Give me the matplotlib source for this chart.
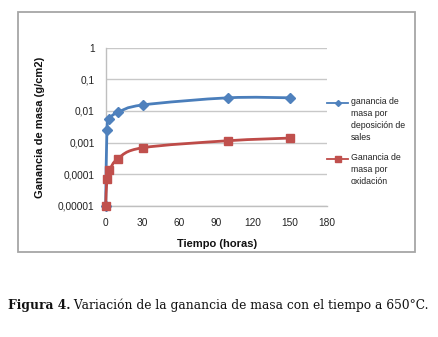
import numpy as np
import matplotlib
matplotlib.use("Agg")
import matplotlib.pyplot as plt
from matplotlib.path import Path
from matplotlib.patches import PathPatch, Rectangle
from matplotlib.lines import Line2D

# ---- data ----
t_sales = [0, 1, 3, 10, 30, 100, 150]
g_sales = [0.00001, 0.0025, 0.0056, 0.009, 0.0154, 0.026, 0.026]
t_ox = [0, 1, 3, 10, 30, 100, 150]
g_ox = [0.00001, 0.000068, 0.00013, 0.00031, 0.00068, 0.00114, 0.00138]
label_sales = "ganancia de\nmasa por\ndeposición de\nsales"
label_ox = "Ganancia de\nmasa por\noxidación"
xticks = [0, 30, 60, 90, 120, 150, 180]
yticks = [0.00001, 0.0001, 0.001, 0.01, 0.1, 1]
ytick_labels = ["0,00001", "0,0001", "0,001", "0,01", "0,1", "1"]
xlabel = "Tiempo (horas)"
ylabel = "Ganancia de masa (g/cm2)"
caption_bold = "Figura 4."
caption_rest = " Variación de la ganancia de masa con el tiempo a 650°C."

W, H = 438, 337
fig = plt.figure(figsize=(W / 100, H / 100), dpi=100)
fig.patch.set_facecolor("white")
plt.rcParams['font.family'] = ['Liberation Sans', 'DejaVu Sans']

def fx(px):
    return px / W

def fy(py):
    return 1 - py / H

# chart frame
fig.add_artist(Rectangle((fx(18), fy(252)), fx(415) - fx(18), fy(12) - fy(252),
                         transform=fig.transFigure, facecolor="white",
                         edgecolor="#A6A6A6", lw=1.3, zorder=0))

ax = fig.add_axes([fx(105.7), fy(205.7), fx(326.7) - fx(105.7), fy(47.7) - fy(205.7)])
ax.set_facecolor("none")
ax.set_yscale("log")
ax.set_xlim(0, 180)
ax.set_ylim(1e-5, 1)
ax.set_yticks(yticks)
ax.set_yticklabels(ytick_labels)
ax.yaxis.set_minor_locator(matplotlib.ticker.NullLocator())
ax.set_xticks(xticks)
ax.set_xticklabels([str(v) for v in xticks])
ax.tick_params(axis="both", length=0, labelsize=7.3, colors="#222222")
ax.tick_params(axis="y", pad=8)
ax.tick_params(axis="x", pad=9)
for s in ["top", "right"]:
    ax.spines[s].set_visible(False)
for s in ["left", "bottom"]:
    ax.spines[s].set_color("#BFBFBF")
    ax.spines[s].set_linewidth(1.0)
ax.grid(axis="y", color="#C8C8C8", lw=1.0)
ax.set_axisbelow(True)

def smooth_path(xs, ys):
    # Catmull-Rom style smoothing in (x, log10 y) space, which is affine to display
    X = np.array(xs, float)
    Y = np.log10(np.array(ys, float))
    P = np.column_stack([X, Y])
    n = len(P)
    verts = [P[0]]
    codes = [Path.MOVETO]
    for i in range(n - 1):
        p0 = P[i - 1] if i > 0 else P[i]
        p1 = P[i]
        p2 = P[i + 1]
        p3 = P[i + 2] if i + 2 < n else P[i + 1]
        c1 = p1 + (p2 - p0) / 6.0
        c2 = p2 - (p3 - p1) / 6.0
        verts += [c1, c2, p2]
        codes += [Path.CURVE4] * 3
    V = np.array(verts)
    V[:, 1] = 10 ** V[:, 1]
    return Path(V, codes)

blue_line = "#4A7EBB"
blue_mk = "#4F81BD"
red_line = "#BE4B48"
red_mk = "#C0504D"

ax.add_patch(PathPatch(smooth_path(t_sales, g_sales), facecolor="none",
                       edgecolor=blue_line, lw=2.0, zorder=3, clip_on=False))
ax.plot(t_sales, g_sales, ls="none", marker="D", ms=5.0, color=blue_mk,
        zorder=4, clip_on=False)
ax.add_patch(PathPatch(smooth_path(t_ox, g_ox), facecolor="none",
                       edgecolor=red_line, lw=2.0, zorder=5, clip_on=False))
ax.plot(t_ox, g_ox, ls="none", marker="s", ms=6.0, color=red_mk,
        zorder=6, clip_on=False)

# axis titles
fig.text(fx(40), fy(127), ylabel, rotation=90, ha="center", va="center",
         fontsize=8.0, fontweight="bold", color="#111111")
fig.text(fx(217), fy(244), xlabel, ha="center", va="center",
         fontsize=8.0, fontweight="bold", color="#111111")

# legend
def legend_entry(y, color, mcolor, marker, ms, label):
    fig.add_artist(Line2D([fx(327), fx(348)], [fy(y), fy(y)], transform=fig.transFigure,
                          color=color, lw=1.3))
    fig.add_artist(Line2D([fx(337.5)], [fy(y)], transform=fig.transFigure,
                          marker=marker, ms=ms, color=mcolor, ls="none"))
    fig.text(fx(351), fy(y - 5.5), label, ha="left", va="top", fontsize=6.3,
             color="#222222", linespacing=1.42)

legend_entry(103, blue_line, blue_mk, "D", 3.0, label_sales)
legend_entry(159, red_line, red_mk, "s", 4.0, label_ox)

# caption
cap_font = ['DejaVu Serif']
cap_size = 9.0
t1 = fig.text(fx(8), fy(305), caption_bold, ha="left", va="center", fontsize=cap_size,
              fontweight="bold", family=cap_font, color="#111111")
fig.canvas.draw()
bb = t1.get_window_extent()
t2 = fig.text(bb.x1 / W, fy(305), caption_rest, ha="left", va="center", fontsize=cap_size,
              family=cap_font, color="#111111")
fig.canvas.draw()
total = t2.get_window_extent().x1 - bb.x0
scale = 422.0 / total
t1.set_fontsize(cap_size * scale)
t2.set_fontsize(cap_size * scale)
fig.canvas.draw()
bb = t1.get_window_extent()
t2.set_x(bb.x1 / W)

fig.savefig("out.png", dpi=100)
